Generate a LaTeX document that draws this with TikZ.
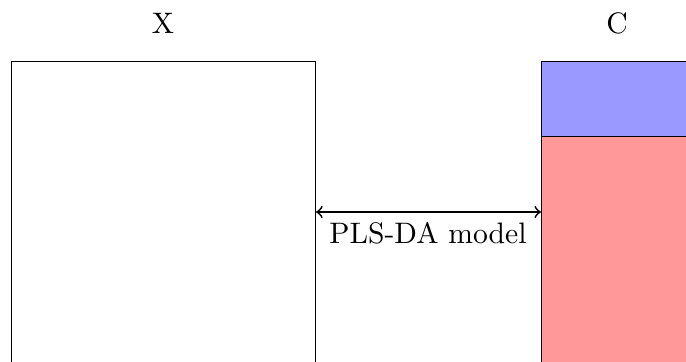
\documentclass[tikz,border=0pt]{standalone}
\begin{document}
\begin{tikzpicture}[x=0.3376pt,y=-0.3376pt,
  blk/.style={draw, line width=0.4pt, inner sep=0pt, anchor=north west},
  lbl/.style={anchor=base, inner sep=0pt},
  link/.style={<->, semithick}]
\useasboundingbox (0,0) rectangle (686,361);
\clip (0,0) rectangle (686,361);
\node[blk, minimum width=102.6pt, minimum height=121.2pt] (X) at (11,61) {};
\node[blk, fill=blue!40, minimum width=87.4pt, minimum height=25.3pt] (Cb) at (541,61) {};
\node[blk, fill=red!40, minimum width=87.4pt, minimum height=95.9pt] (Cr) at (541,136) {};
\node[lbl] (lx) at (163,33) {X};
\node[lbl] (lc) at (617,33) {C};
\coordinate (mid) at (428,212);
\draw[link] (X.east |- mid) -- (Cr.west |- mid);
\node[lbl] (lm) at (428,243) {PLS-DA model};
\end{tikzpicture}
\end{document}
